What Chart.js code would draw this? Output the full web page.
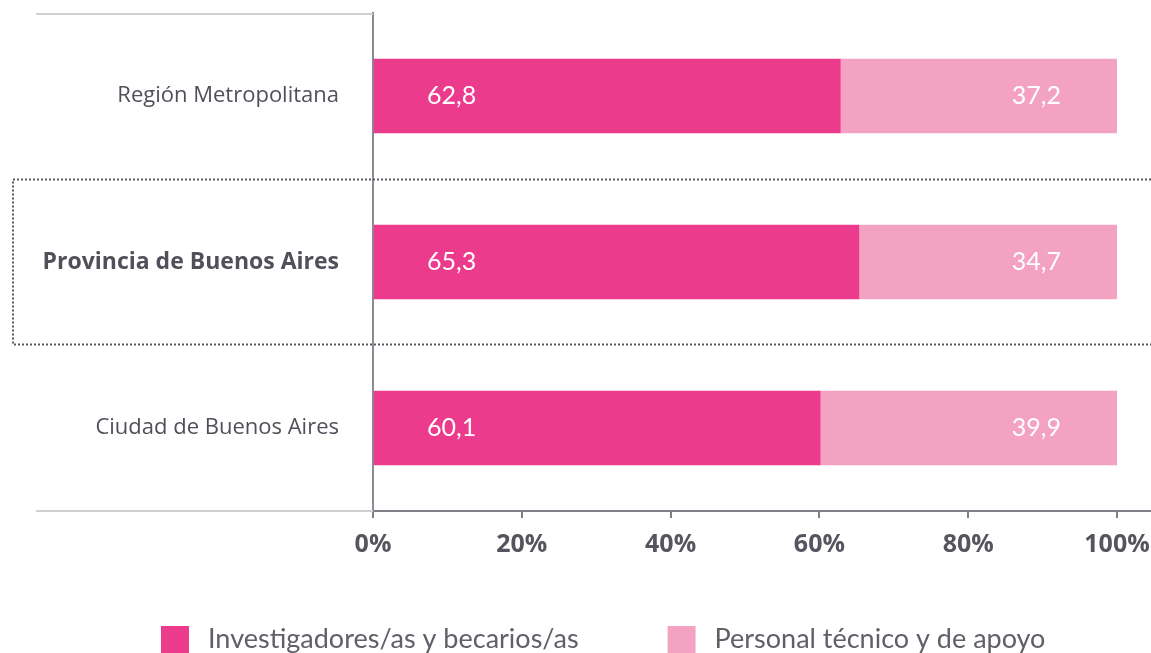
<!DOCTYPE html>
<html>
<head>
<meta charset="utf-8">
<script src="https://cdn.jsdelivr.net/npm/chart.js@4.4.1/dist/chart.umd.min.js"></script>
<style>
    html, body { margin: 0; padding: 0; background: #ffffff; overflow: hidden; }
    #wrap { width: 1151px; height: 653px; }
</style>
</head>
<body>
<div id="wrap"><canvas id="myChart" width="1151" height="653"></canvas></div>
<script>
"use strict";

// categorias y series (porcentajes)
let regiones = ["Región Metropolitana", "Provincia de Buenos Aires", "Ciudad de Buenos Aires"];
let investigadores = [62.8, 65.3, 60.1];
let personalTecnico = [37.2, 34.7, 39.9];
let seriesNames = ["Investigadores/as y becarios/as", "Personal técnico y de apoyo"];
let xTicks = [0, 20, 40, 60, 80, 100];

let colorFuerte = "#EC3B8D";
let colorSuave = "#F3A2C2";
let gris = "#54555e";

// lineas extra, etiquetas de valor, recuadro punteado y leyenda
let extras = {
    id: "extras",
    beforeDatasetsDraw: function (chart) {
        let ctx = chart.ctx;
        let area = chart.chartArea;
        ctx.save();
        // lineas grises claras a la izquierda del eje
        ctx.strokeStyle = "#cfcfd2";
        ctx.lineWidth = 2;
        ctx.beginPath();
        ctx.moveTo(36, area.top + 1);
        ctx.lineTo(area.left, area.top + 1);
        ctx.moveTo(36, area.bottom);
        ctx.lineTo(area.left, area.bottom);
        ctx.stroke();
        // prolongacion del eje x a la derecha
        ctx.strokeStyle = "#7d7e86";
        ctx.beginPath();
        ctx.moveTo(area.right, area.bottom);
        ctx.lineTo(chart.width, area.bottom);
        ctx.stroke();
        // recuadro punteado sobre la provincia
        let y = chart.scales.y;
        let half = (y.getPixelForValue(1) - y.getPixelForValue(0)) / 2;
        let top = Math.round(y.getPixelForValue(1) - half) + 0.5;
        let bottom = Math.round(y.getPixelForValue(1) + half) - 0.5;
        ctx.strokeStyle = "#5a5b63";
        ctx.lineWidth = 2;
        ctx.setLineDash([2, 2]);
        ctx.beginPath();
        ctx.moveTo(chart.width, top);
        ctx.lineTo(13, top);
        ctx.lineTo(13, bottom);
        ctx.lineTo(chart.width, bottom);
        ctx.stroke();
        ctx.restore();
    },
    afterDatasetsDraw: function (chart) {
        let ctx = chart.ctx;
        ctx.save();
        ctx.font = "25px Lato";
        ctx.fillStyle = "#ffffff";
        ctx.textBaseline = "middle";
        chart.getDatasetMeta(0).data.forEach(function (bar, i) {
            ctx.textAlign = "left";
            ctx.fillText(investigadores[i].toFixed(1).replace(".", ","), bar.base + 53, bar.y);
        });
        chart.getDatasetMeta(1).data.forEach(function (bar, i) {
            ctx.textAlign = "right";
            ctx.fillText(personalTecnico[i].toFixed(1).replace(".", ","), bar.x - 56, bar.y);
        });

        // leyenda
        ctx.font = "27px Lato";
        ctx.textAlign = "left";
        ctx.textBaseline = "alphabetic";
        let x = 161;
        chart.data.datasets.forEach(function (ds) {
            ctx.fillStyle = ds.backgroundColor;
            ctx.fillRect(x, 626, 28, 28);
            ctx.fillStyle = "#5f6068";
            ctx.fillText(ds.label, x + 47, 648);
            x += 47 + ctx.measureText(ds.label).width + 89;
        });
        ctx.restore();
    }
};

let chart = new Chart(document.getElementById("myChart"), {
    type: "bar",
    data: {
        labels: regiones,
        datasets: [
            { label: seriesNames[0], data: investigadores, backgroundColor: colorFuerte, barThickness: 74 },
            { label: seriesNames[1], data: personalTecnico, backgroundColor: colorSuave, barThickness: 74 }
        ]
    },
    options: {
        indexAxis: "y",
        responsive: false,
        animation: false,
        layout: { padding: { top: 13, right: 34, left: 0, bottom: 0 } },
        plugins: {
            legend: { display: false },
            tooltip: { enabled: false }
        },
        scales: {
            x: {
                stacked: true,
                min: 0,
                max: 100,
                afterBuildTicks: function (scale) {
                    scale.ticks = xTicks.map(function (v) { return { value: v }; });
                },
                afterFit: function (scale) {
                    scale.height = 142;
                    scale.paddingLeft = 0;
                    scale.paddingRight = 0;
                },
                border: { display: true, color: "#7d7e86", width: 2 },
                grid: { drawOnChartArea: false, drawTicks: true, tickLength: 7, color: "#7d7e86", lineWidth: 2 },
                ticks: {
                    padding: 12,
                    color: gris,
                    font: { family: "Open Sans", size: 25, weight: "bold" },
                    callback: function (v) { return v + "%"; }
                }
            },
            y: {
                stacked: true,
                afterFit: function (scale) {
                    scale.width = 373;
                    scale.paddingTop = 0;
                    scale.paddingBottom = 0;
                },
                border: { display: true, color: "#8b8b93", width: 2 },
                grid: { display: false },
                ticks: {
                    padding: 26,
                    color: "#4f5059",
                    font: function (c) {
                        if (c.index === 1) {
                            return { family: "Open Sans", size: 23, weight: "bold" };
                        }
                        return { family: "Open Sans", size: 22 };
                    }
                }
            }
        }
    },
    plugins: [extras]
});
</script>
</body>
</html>
